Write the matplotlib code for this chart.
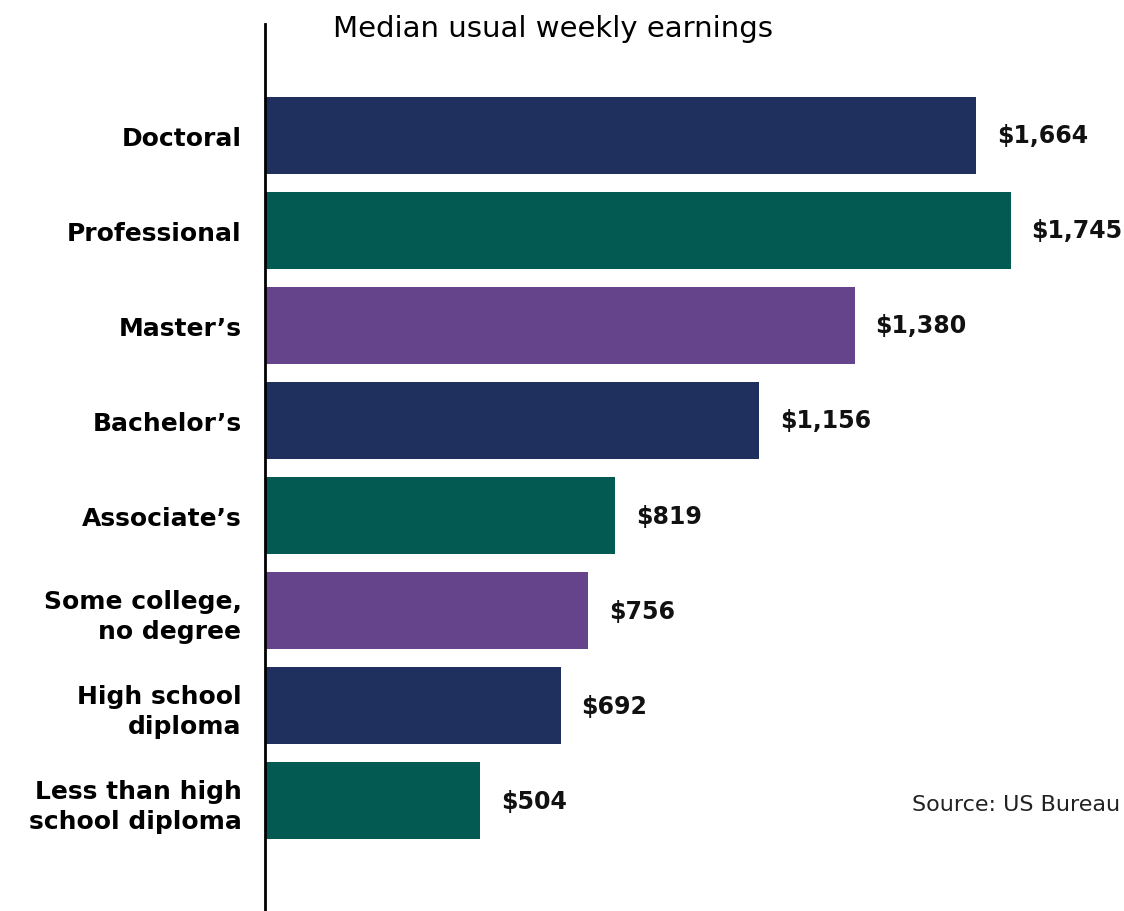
import matplotlib.pyplot as plt

categories = ["Doctoral", "Professional", "Master\u2019s", "Bachelor\u2019s", "Associate\u2019s",
              "Some college,\nno degree", "High school\ndiploma", "Less than high\nschool diploma"]
earnings = [1664, 1745, 1380, 1156, 819, 756, 692, 504]
colors = ["#1f2f5e", "#025a52", "#65448c", "#1f2f5e", "#025a52", "#65448c", "#1f2f5e", "#025a52"]

plt.rcParams['font.family'] = ['DejaVu Sans']

fig = plt.figure(figsize=(11.24, 9.12), dpi=100)
ax = fig.add_axes([265/1124, 0, 1 - 265/1124, 1 - 25/912])

pos = list(range(len(categories)))
ax.barh(pos, earnings, height=0.81, color=colors)

for p, v in zip(pos, earnings):
    ax.annotate(f"${v:,}", (v, p), xytext=(15, 0), textcoords="offset points",
                va="center", ha="left", fontsize=17, fontweight="bold", color="#111111")

ax.set_yticks(pos)
ax.set_yticklabels(categories, fontsize=18, fontweight="bold", linespacing=1.3)
ax.tick_params(axis="y", length=0, pad=17)
ax.set_xticks([])
ax.set_xlim(0, 2010)
ax.set_ylim(8.16, -1.17)

for s in ["top", "right", "bottom"]:
    ax.spines[s].set_visible(False)
ax.spines["left"].set_linewidth(2)
ax.spines["left"].set_color("black")

fig.text(553/1124, 1 - 29/912, "Median usual weekly earnings", ha="center", va="center",
         fontsize=21)
fig.text(912/1124, 1 - 805/912, "Source: US Bureau", ha="left", va="center",
         fontsize=16, color="#222222")

fig.savefig("out.png", dpi=100)
